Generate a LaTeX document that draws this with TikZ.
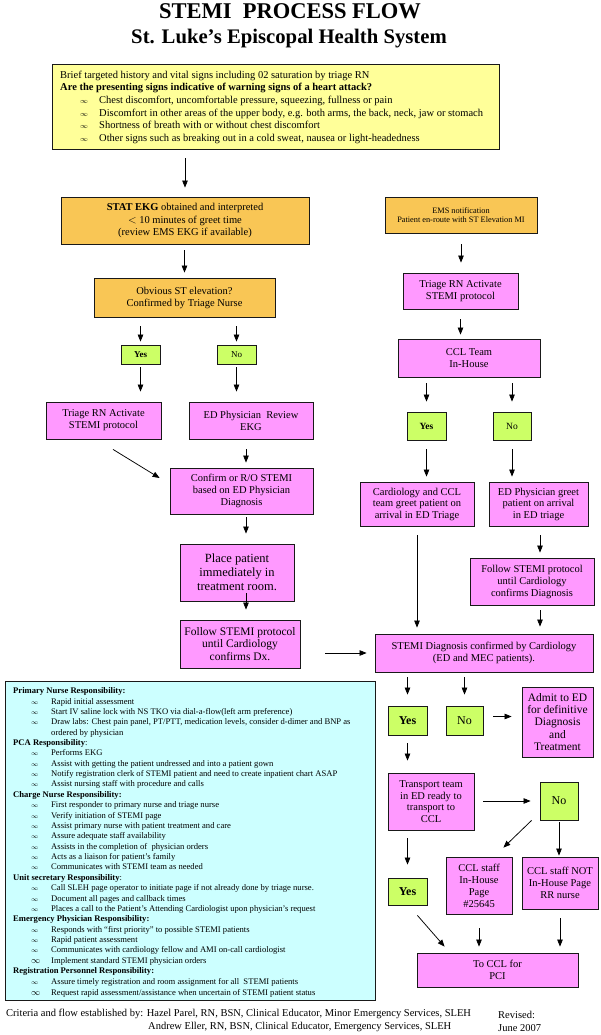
\documentclass[tikz,border=0pt]{standalone}
\usepackage{fontspec}
\setmainfont{Liberation Serif}
\usetikzlibrary{arrows.meta,calc}
\definecolor{boxyellow}{HTML}{FFFF99}
\definecolor{boxorange}{HTML}{F9C655}
\definecolor{boxpink}{HTML}{FF99FF}
\definecolor{boxgreen}{HTML}{CCFF66}
\definecolor{boxcyan}{HTML}{CCFFFF}
\newcommand{\fsz}[2]{\fontsize{#1}{#2}\selectfont}
\newcommand{\infbul}[1][20pt]{\makebox[#1][l]{$\scriptstyle\infty$}}
\newcommand{\infbig}[1][20pt]{\makebox[#1][l]{$\infty$}}
\begin{document}
\begin{tikzpicture}[x=1pt, y=-1pt,
		box/.style={draw=black!90, line width=0.8pt, align=center, inner sep=0pt},
		sz/.style 2 args={minimum width=#1pt, minimum height=#2pt},
		pinkbox/.style={box, fill=boxpink, font=\fsz{10.5}{12}},
		orangebox/.style={box, fill=boxorange, font=\fsz{10.5}{12.5}},
		greenbox/.style={box, fill=boxgreen, font=\fsz{9.5}{11}},
		arr/.style={-{Triangle[length=7pt,width=5.5pt]}, line width=0.75pt},
		txt/.style={anchor=base west, inner sep=0pt, font=\fsz{10.5}{12}},
		resp/.style={anchor=base west, inner sep=0pt, font=\fsz{8.6}{10}}]
		
		\useasboundingbox (0,0) rectangle (600,1035);
		
		% title
		\node[anchor=base, inner sep=0pt, font=\fsz{22.5}{26}\bfseries] (title) at (290,19) {STEMI\ \ PROCESS FLOW};
		\node[anchor=base, inner sep=0pt, font=\fsz{20.7}{24}\bfseries] (subtitle) at (289,44) {St. Luke's Episcopal Health System};
		
		% history and warning signs
		\node[box, fill=boxyellow, sz={447}{85}] (hist) at (275.5,106.5) {};
		\node[txt] (h1) at (60,78.5) {Brief targeted history and vital signs including 02 saturation by triage RN};
		\node[txt, font=\fsz{10.5}{12}\bfseries] (h2) at (60,91) {Are the presenting signs indicative of warning signs of a heart attack?};
		\node[txt] (h3) at (80,103.5) {\infbul[19pt]Chest discomfort, uncomfortable pressure, squeezing, fullness or pain};
		\node[txt] (h4) at (80,116.5) {\infbul[19pt]Discomfort in other areas of the upper body, e.g. both arms, the back, neck, jaw or stomach};
		\node[txt] (h5) at (80,129) {\infbul[19pt]Shortness of breath with or without chest discomfort};
		\node[txt] (h6) at (80,141.5) {\infbul[19pt]Other signs such as breaking out in a cold sweat, nausea or light-headedness};
		
		% left column
		\node[orangebox, sz={248}{47}] (stat) at (185,220.5) {\textbf{STAT EKG} obtained and interpreted\\ $<$ 10 minutes of greet time\\ (review EMS EKG if available)};
		\node[orangebox, font=\fsz{10.5}{12}, sz={181}{39}] (obvious) at (184.5,297.5) {Obvious ST elevation?\\ Confirmed by Triage Nurse};
		\node[greenbox, font=\fsz{9}{10}\bfseries, sz={39}{19}] (yesL) at (140.5,354.5) {Yes};
		\node[greenbox, font=\fsz{9}{10}, sz={39}{19}] (noL) at (236.5,354.5) {No};
		\node[pinkbox, sz={115}{37}] (triageL) at (103.5,420.5) {Triage RN Activate\\ STEMI protocol};
		\node[pinkbox, sz={124}{37}] (edrev) at (251,420.5) {ED Physician\ \ Review\\ EKG};
		\node[pinkbox, sz={143}{46}] (confirm) at (241.5,491) {Confirm or R/O STEMI\\ based on ED Physician\\ Diagnosis};
		\node[pinkbox, font=\fsz{12.5}{14}, sz={114}{57}] (place) at (237,572.5) {Place patient\\ immediately in\\ treatment room.};
		\node[pinkbox, font=\fsz{11.5}{12.5}, sz={120}{48}] (follow) at (240,644) {Follow STEMI protocol\\ until Cardiology\\ confirms Dx.};
		
		% right column
		\node[orangebox, font=\fsz{8.3}{9.5}, sz={152}{36}] (ems) at (461,215) {EMS notification\\ Patient en-route with ST Elevation MI};
		\node[pinkbox, sz={115}{36}] (triageR) at (460.5,291) {Triage RN Activate\\ STEMI protocol};
		\node[pinkbox, sz={142}{38}] (ccl) at (469,358) {CCL Team\\ In-House};
		\node[greenbox, font=\fsz{9.5}{11}\bfseries, sz={39}{28}] (yesR) at (426.5,426) {Yes};
		\node[greenbox, sz={38}{28}] (noR) at (512,426) {No};
		\node[pinkbox, font=\fsz{10.5}{11.5}, sz={114}{44}] (card) at (417,504) {Cardiology and CCL\\ team greet patient on\\ arrival in ED Triage};
		\node[pinkbox, font=\fsz{10.5}{11.5}, sz={99}{44}] (edgreet) at (538.5,504) {ED Physician greet\\ patient on arrival\\ in ED triage};
		\node[pinkbox, font=\fsz{10.5}{12}, sz={124}{47}] (followR) at (532,581.5) {Follow STEMI protocol\\ until Cardiology\\ confirms Diagnosis};
		\node[pinkbox, font=\fsz{10.5}{12}, sz={218}{38}] (stemidx) at (484,653) {STEMI Diagnosis confirmed by Cardiology\\ (ED and MEC patients).};
		\node[greenbox, font=\fsz{12}{14}\bfseries, sz={39}{29}] (yesD) at (407.5,720.5) {Yes};
		\node[greenbox, font=\fsz{12}{14}, sz={37}{29}] (noD) at (464.5,720.5) {No};
		\node[pinkbox, font=\fsz{11.5}{12.3}, sz={71}{70}] (admit) at (557.5,722) {Admit to ED\\ for definitive\\ Diagnosis\\ and\\ Treatment};
		\node[pinkbox, font=\fsz{10.5}{11.7}, sz={86}{57}] (transport) at (431,801.5) {Transport team\\ in ED ready to\\ transport to\\ CCL};
		\node[greenbox, font=\fsz{12}{14}, sz={38}{38}] (noT) at (559,801) {No};
		\node[greenbox, font=\fsz{12}{14}\bfseries, sz={39}{27}] (yesY) at (407.5,891.5) {Yes};
		\node[pinkbox, font=\fsz{10.5}{12}, sz={66}{57}] (cclin) at (479,885.5) {CCL staff\\ In-House\\ Page\\ \#25645};
		\node[pinkbox, font=\fsz{10.5}{12}, sz={76}{52}] (cclnot) at (560,883) {CCL staff NOT\\ In-House Page\\ RR nurse};
		\node[pinkbox, font=\fsz{10.5}{12}, sz={161}{34}] (tocci) at (497.5,970) {To CCL for\\ PCI};
		
		% arrows
		\draw[arr, shorten <=9pt, shorten >=9pt] (hist.south -| stat.north) -- (stat.north);
		\draw[arr, shorten <=6pt, shorten >=5pt] (stat.south -| obvious.north) -- (obvious.north);
		\draw[arr, shorten <=9pt, shorten >=3pt] (obvious.south -| yesL.north) -- (yesL.north);
		\draw[arr, shorten <=9pt, shorten >=3pt] (obvious.south -| noL.north) -- (noL.north);
		\draw[arr, shorten <=3pt, shorten >=10pt] (yesL.south) -- (yesL.south |- triageL.north);
		\draw[arr, shorten <=3pt, shorten >=10pt] (noL.south) -- (noL.south |- edrev.north);
		\draw[arr] ($(triageL.south)+(9.5,10)$) -- ($(confirm.west)+(-10,-13)$);
		\draw[arr, shorten <=10pt, shorten >=5pt] ([xshift=-5pt]edrev.south) -- ([xshift=-5pt]edrev.south |- confirm.north);
		\draw[arr, shorten <=3pt, shorten >=10pt] ([xshift=4.5pt]confirm.south) -- ([xshift=4.5pt]confirm.south |- place.north);
		\draw[arr, shorten <=-8pt, shorten >=10pt] ([xshift=4.5pt]confirm.south |- place.south) -- ([xshift=4.5pt]confirm.south |- follow.north);
		\draw[arr, shorten <=25pt, shorten >=8pt] (follow.east |- stemidx.west) -- (stemidx.west);
		
		\draw[arr, shorten <=11pt, shorten >=10pt] (ems.south) -- (ems.south |- triageR.north);
		\draw[arr, shorten <=10pt, shorten >=4pt] (triageR.south) -- (triageR.south |- ccl.north);
		\draw[arr, shorten <=6pt, shorten >=10pt] (ccl.south -| yesR.north) -- (yesR.north);
		\draw[arr, shorten <=6pt, shorten >=10pt] (ccl.south -| noR.north) -- (noR.north);
		\draw[arr, shorten <=9pt, shorten >=5pt] (yesR.south) -- (yesR.south |- card.north);
		\draw[arr, shorten <=9pt, shorten >=5pt] (noR.south) -- (noR.south |- edgreet.north);
		\draw[arr, shorten <=9pt, shorten >=6pt] (card.south) -- (card.south |- stemidx.north);
		\draw[arr, shorten <=9pt, shorten >=5pt] ([xshift=1.5pt]edgreet.south) -- ([xshift=1.5pt]edgreet.south |- followR.north);
		\draw[arr, shorten <=5pt, shorten >=7pt] ([xshift=8pt]followR.south) -- ([xshift=8pt]followR.south |- stemidx.north);
		\draw[arr, shorten <=5pt, shorten >=11pt] (stemidx.south -| yesD.north) -- (yesD.north);
		\draw[arr, shorten <=5pt, shorten >=11pt] (stemidx.south -| noD.north) -- (noD.north);
		\draw[arr, shorten <=10pt, shorten >=10pt] ([yshift=4pt]noD.east) -- ([yshift=4pt]noD.east -| admit.west);
		\draw[arr, shorten <=8pt, shorten >=12pt] (yesD.south) -- (yesD.south |- transport.north);
		\draw[arr, shorten <=9pt, shorten >=9pt] (transport.east |- noT.west) -- (noT.west);
		\draw[arr] ($(noT.south west)+(-8,0)$) -- ($(cclin.north east)+(-9,-9)$);
		\draw[arr, shorten <=2pt, shorten >=1pt] (noT.south) -- (noT.south |- cclnot.north);
		\draw[arr, shorten <=8pt, shorten >=13pt] (transport.south -| yesY.north) -- (yesY.north);
		\draw[arr] ($(yesY.south east)+(-10,10)$) -- ($(tocci.north west)+(28,-6)$);
		\draw[arr, shorten <=14pt, shorten >=6pt] (cclin.south) -- (cclin.south |- tocci.north);
		\draw[arr, shorten <=9pt, shorten >=6pt] (cclnot.south) -- (cclnot.south |- tocci.north);
		
		% responsibilities
		\node[box, fill=boxcyan, sz={370}{319}] (duties) at (190,840.5) {};
		\node[resp, font=\fsz{8.6}{10}\bfseries] (r1) at (13,693.6) {Primary Nurse Responsibility:};
		\node[resp] (r2) at (31,704.0) {\infbul Rapid initial assessment};
		\node[resp] (r3) at (31,714.3) {\infbul Start IV saline lock with NS TKO via dial-a-flow(left arm preference)};
		\node[resp] (r4) at (31,724.7) {\infbul Draw labs: Chest pain panel, PT/PTT, medication levels, consider d-dimer and BNP as};
		\node[resp] (r5) at (51,735.1) {ordered by physician};
		\node[resp] (r6) at (13,745.5) {\textbf{PCA Responsibility}:};
		\node[resp] (r7) at (31,755.8) {\infbul Performs EKG};
		\node[resp] (r8) at (31,766.2) {\infbul Assist with getting the patient undressed and into a patient gown};
		\node[resp] (r9) at (31,776.6) {\infbul Notify registration clerk of STEMI patient and need to create inpatient chart ASAP};
		\node[resp] (r10) at (31,786.9) {\infbul Assist nursing staff with procedure and calls};
		\node[resp, font=\fsz{8.6}{10}\bfseries] (r11) at (13,797.3) {Charge Nurse Responsibility:};
		\node[resp] (r12) at (31,807.7) {\infbul First responder to primary nurse and triage nurse};
		\node[resp] (r13) at (31,818.0) {\infbul Verify initiation of STEMI page};
		\node[resp] (r14) at (31,828.4) {\infbul Assist primary nurse with patient treatment and care};
		\node[resp] (r15) at (31,838.8) {\infbul Assure adequate staff availability};
		\node[resp] (r16) at (31,849.2) {\infbul Assists in the completion of\ \ physician orders};
		\node[resp] (r17) at (31,859.5) {\infbul Acts as a liaison for patient’s family};
		\node[resp] (r18) at (31,869.9) {\infbul Communicates with STEMI team as needed};
		\node[resp] (r19) at (13,880.3) {\textbf{Unit secretary Responsibility}:};
		\node[resp] (r20) at (31,890.6) {\infbul Call SLEH page operator to initiate page if not already done by triage nurse.};
		\node[resp] (r21) at (31,901.0) {\infbul Document all pages and callback times};
		\node[resp] (r22) at (31,911.4) {\infbul Places a call to the Patient’s Attending Cardiologist upon physician’s request};
		\node[resp, font=\fsz{8.6}{10}\bfseries] (r23) at (13,921.7) {Emergency Physician Responsibility:};
		\node[resp] (r24) at (31,932.1) {\infbul Responds with “first priority” to possible STEMI patients};
		\node[resp] (r25) at (31,942.5) {\infbul Rapid patient assessment};
		\node[resp] (r26) at (31,952.9) {\infbul Communicates with cardiology fellow and AMI on-call cardiologist};
		\node[resp] (r27) at (31,963.2) {\infbig Implement standard STEMI physician orders};
		\node[resp, font=\fsz{8.6}{10}\bfseries] (r28) at (13,973.6) {Registration Personnel Responsibility:};
		\node[resp] (r29) at (31,984.0) {\infbul Assure timely registration and room assignment for all\ \ STEMI patients};
		\node[resp] (r30) at (31,995.0) {\infbig Request rapid assessment/assistance when uncertain of STEMI patient status};
		
		% footer
		\node[txt, font=\fsz{10.5}{12}] (crit) at (6,1016) {Criteria and flow established by: Hazel Parel, RN, BSN, Clinical Educator, Minor Emergency Services, SLEH};
		\node[txt, font=\fsz{10.5}{12}] (crit2) at (148,1029) {Andrew Eller, RN, BSN, Clinical Educator, Emergency Services, SLEH};
		\node[txt, font=\fsz{10.5}{12}] (rev) at (498,1018) {Revised:};
		\node[txt, font=\fsz{10.5}{12}] (rev2) at (498,1031) {June 2007};
		
\end{tikzpicture}
\end{document}
